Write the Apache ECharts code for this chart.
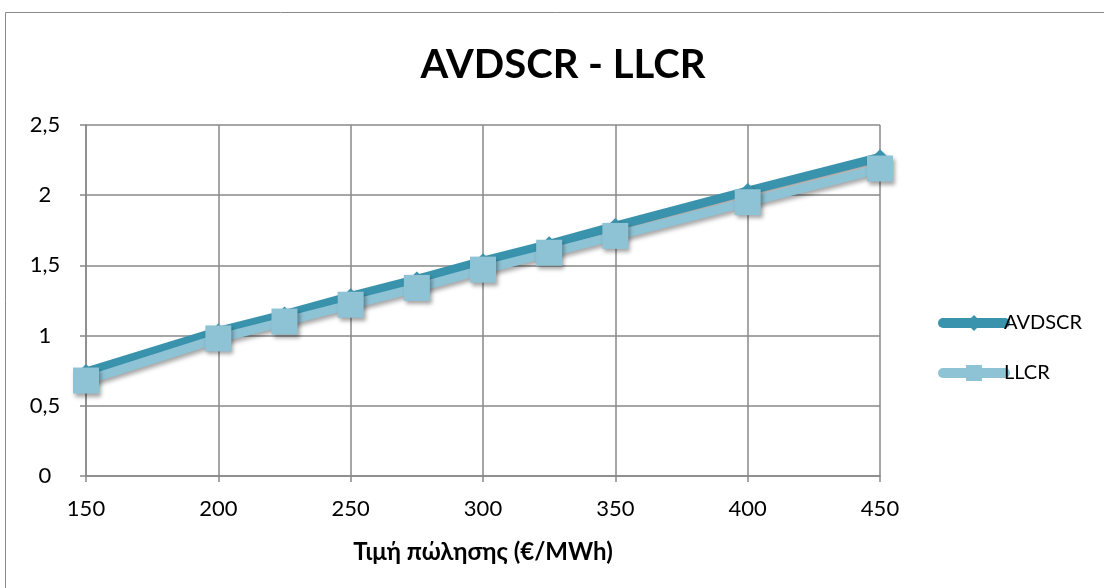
<!DOCTYPE html>
<html><head><meta charset="utf-8">
<script src="https://cdn.jsdelivr.net/npm/echarts@6/dist/echarts.min.js"></script>
<style>html,body{margin:0;padding:0;background:#fff}#c{width:1104px;height:588px}</style>
</head><body><div id="c"></div>
<script>
const prices = [150, 200, 225, 250, 275, 300, 325, 350, 400, 450];
const avdscr = [0.74, 1.03, 1.15, 1.28, 1.40, 1.53, 1.65, 1.78, 2.03, 2.27];
const llcr = [0.68, 0.98, 1.10, 1.22, 1.34, 1.47, 1.59, 1.71, 1.95, 2.19];
const seriesNames = ['AVDSCR', 'LLCR'];
const titleText = 'AVDSCR - LLCR';
const xName = 'Τιμή πώλησης (€/MWh)';

const FONT = 'Lato, "Open Sans", "Noto Sans", sans-serif';
const DARK = '#3A93AC', LIGHT = '#8EC3D6';
const shadow = {shadowBlur: 4, shadowOffsetX: 2, shadowOffsetY: 3, shadowColor: 'rgba(0,0,0,0.35)'};

const chart = echarts.init(document.getElementById('c'));
chart.setOption({
  animation: false,
  backgroundColor: '#fff',
  title: {text: titleText, left: 558, top: 40, textAlign: 'center',
    textStyle: {fontFamily: FONT, fontSize: 40, fontWeight: 'bold', color: '#000'}},
  graphic: [{type: 'rect', shape: {x: 5.5, y: 12.5, width: 1110, height: 600},
    style: {fill: 'none', stroke: '#8a8a8a', lineWidth: 1}}],
  legend: {orient: 'vertical', left: 933, top: 308, itemGap: 30, itemWidth: 62, itemHeight: 20,
    lineStyle: {width: 10, cap: 'round'},
    textStyle: {fontFamily: FONT, fontSize: 20, color: '#000', padding: [0, 0, 0, -6]},
    data: seriesNames},
  grid: {left: 86, right: 224, top: 125, bottom: 112},
  xAxis: {type: 'value', min: 150, max: 450, interval: 50,
    name: xName, nameLocation: 'middle', nameGap: 64,
    nameTextStyle: {fontFamily: FONT, fontSize: 24, fontWeight: 'bold', color: '#000'},
    axisLine: {lineStyle: {color: '#888', width: 1.5}},
    axisTick: {show: true, length: 6, lineStyle: {color: '#888', width: 1.5}},
    axisLabel: {fontFamily: FONT, fontSize: 22, color: '#000', margin: 22},
    splitLine: {show: true, lineStyle: {color: '#888', width: 1.5}}},
  yAxis: {type: 'value', min: 0, max: 2.5, interval: 0.5,
    axisLine: {show: true, lineStyle: {color: '#888', width: 1.5}},
    axisTick: {show: true, length: 6, lineStyle: {color: '#888', width: 1.5}},
    axisLabel: {fontFamily: FONT, fontSize: 22, color: '#000', margin: 41, align: 'center',
      formatter: v => String(v).replace('.', ',')},
    splitLine: {show: true, lineStyle: {color: '#888', width: 1.5}}},
  series: [
    {name: seriesNames[0], type: 'line', data: prices.map((p, i) => [p, avdscr[i]]),
      symbol: 'diamond', symbolSize: 16, color: DARK,
      lineStyle: Object.assign({width: 9, color: DARK}, shadow),
      itemStyle: Object.assign({color: DARK}, shadow), z: 2},
    {name: seriesNames[1], type: 'line', data: prices.map((p, i) => [p, llcr[i]]),
      symbol: 'rect', symbolSize: 26, color: LIGHT,
      lineStyle: Object.assign({width: 9, color: LIGHT}, shadow),
      itemStyle: Object.assign({color: LIGHT}, shadow), z: 3}
  ]
});
</script></body></html>
